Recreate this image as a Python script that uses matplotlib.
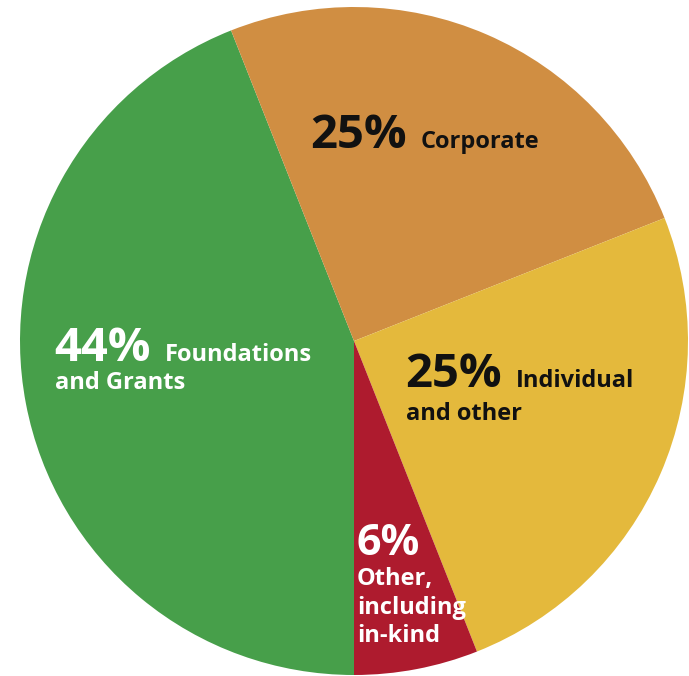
import matplotlib
matplotlib.use('Agg')
import matplotlib.pyplot as plt

plt.rcParams['font.family'] = ['Open Sans', 'DejaVu Sans']

# shares of funding, clockwise from the bottom
sources = ['Foundations and Grants', 'Corporate', 'Individual and other', 'Other, including in-kind']
shares = [44, 25, 25, 6]
colors = ['#479f4a', '#d08e42', '#e4b93c', '#ae1b2e']

W, H = 689, 676
fig = plt.figure(figsize=(W / 100, H / 100), dpi=100)
# pie spans x 20..688 px, y 7..675 px (from top)
ax = fig.add_axes([20 / W, 1 / H, 668 / W, 668 / H])
ax.pie(shares, colors=colors, startangle=270, counterclock=False,
       wedgeprops=dict(linewidth=0), radius=1)
ax.set_xlim(-1, 1)
ax.set_ylim(-1, 1)
ax.axis('off')


def put(x, y, s, size, color):
    # x, y in pixels from top-left, y is baseline
    fig.text(x / W, 1 - y / H, s, fontsize=size, fontweight='bold', color=color,
             ha='left', va='baseline')


dark = '#111111'
white = 'white'
small = 17

# Corporate
put(310, 148, '25%', 34, dark)
put(421, 148, 'Corporate', small, dark)

# Individual
put(405, 387, '25%', 34, dark)
put(516, 387, 'Individual', small, dark)
put(406, 420, 'and other', small, dark)

# Foundations
put(54, 361, '44%', 34, white)
put(165, 361, 'Foundations', small, white)
put(55, 389, 'and Grants', small, white)

# Other
put(356, 555, '6%', 31, white)
put(357, 585, 'Other,', small, white)
put(357, 614, 'including', small, white)
put(357, 642, 'in-kind', small, white)

fig.savefig('out.png', dpi=100)
